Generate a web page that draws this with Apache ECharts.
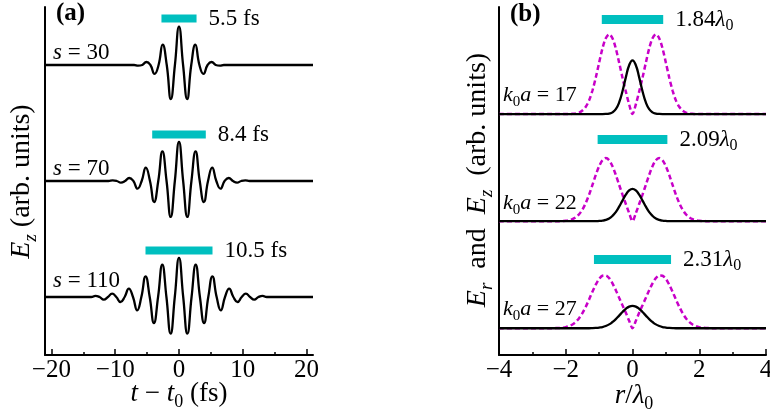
<!DOCTYPE html>
<html>
<head>
<meta charset="utf-8">
<script src="https://cdn.jsdelivr.net/npm/echarts@6/dist/echarts.min.js"></script>
<style>
html, body { margin: 0; padding: 0; background: #fff; }
#chart { width: 770px; height: 415px; }
</style>
</head>
<body>
<div id="chart"></div>
<script>
// ---------- (a) on-axis field E_z versus t - t0, listed for t - t0 >= 0 (pulses are even in time) ----------
const pulseNames = ['30', '70', '110'];
const pulseTime30 = [0, 0.64, 1.28, 1.92, 2.56, 3.2, 3.84, 4.48, 5.12, 5.76, 6.4, 7.04, 21];
const pulseField30 = [0.33, 0, -0.293, 0, 0.175, 0, -0.077, 0, 0.026, 0, -0.006, 0, 0];
const pulseTime70 = [0, 0.65, 1.3, 1.95, 2.6, 3.25, 3.9, 4.55, 5.2, 5.85, 6.5, 7.15, 7.8, 8.45, 9.1, 9.75, 10.4, 11.05, 21];
const pulseField70 = [0.336, 0, -0.31, 0, 0.255, 0, -0.181, 0, 0.115, 0, -0.066, 0, 0.026, 0, -0.014, 0, 0.005, 0, 0];
const pulseTime110 = [0, 0.66, 1.31, 1.97, 2.62, 3.28, 3.93, 4.59, 5.24, 5.9, 6.55, 7.21, 7.86, 8.52, 9.17, 9.83, 10.48, 11.14, 11.79, 12.45, 13.1, 13.76, 21];
const pulseField110 = [0.338, 0, -0.316, 0, 0.278, 0, -0.224, 0, 0.178, 0, -0.115, 0, 0.072, 0, -0.043, 0, 0.029, 0, -0.023, 0, 0.01, 0, 0];
const pulseDurations = [5.5, 8.4, 10.5];          // fs
const timeTicks = [-20, -10, 0, 10, 20];
const timeMinorTicks = [-15, -5, 5, 15];

// ---------- (b) transverse profiles versus r / lambda0, listed for r >= 0 (profiles are even in r) ----------
const kaNames = ['17', '22', '27'];
const radius = [0, 0.1, 0.2, 0.3, 0.4, 0.5, 0.6, 0.7, 0.8, 0.9, 1.0, 1.1, 1.2, 1.3, 1.4, 1.5, 1.6, 1.7, 1.8, 1.9, 2.0, 2.1, 2.2, 2.3, 2.4, 4];
const ezRadial17 = [0.502, 0.456, 0.343, 0.213, 0.109, 0.046, 0.016, 0.005, 0.001, 0, 0, 0, 0, 0, 0, 0, 0, 0, 0, 0, 0, 0, 0, 0, 0, 0];
const erRadial17 = [0, 0.09, 0.21, 0.34, 0.48, 0.613, 0.709, 0.745, 0.709, 0.613, 0.48, 0.341, 0.22, 0.128, 0.068, 0.033, 0.014, 0.006, 0.002, 0, 0, 0, 0, 0, 0, 0];
const ezRadial22 = [0.302, 0.287, 0.247, 0.192, 0.135, 0.085, 0.049, 0.025, 0.012, 0.005, 0.002, 0, 0, 0, 0, 0, 0, 0, 0, 0, 0, 0, 0, 0, 0, 0];
const erRadial22 = [0, 0.075, 0.16, 0.248, 0.339, 0.432, 0.513, 0.569, 0.589, 0.569, 0.513, 0.432, 0.339, 0.248, 0.17, 0.108, 0.064, 0.036, 0.018, 0.009, 0.004, 0.002, 0, 0, 0, 0];
const ezRadial27 = [0.209, 0.202, 0.181, 0.151, 0.118, 0.085, 0.058, 0.036, 0.021, 0.011, 0.006, 0.003, 0.001, 0, 0, 0, 0, 0, 0, 0, 0, 0, 0, 0, 0, 0];
const erRadial27 = [0, 0.069, 0.144, 0.214, 0.284, 0.355, 0.419, 0.468, 0.493, 0.49, 0.46, 0.407, 0.341, 0.269, 0.201, 0.142, 0.094, 0.059, 0.035, 0.02, 0.01, 0.005, 0.002, 0.001, 0, 0];
const spotWidths = ['1.84', '2.09', '2.31'];      // in units of lambda0
const radiusTicks = [-4, -2, 0, 2, 4];

// ---------- layout ----------
const serif = '"Liberation Serif", "Times New Roman", serif';
const CYAN = '#00bfbf';
const MAGENTA = '#c800c8';
const pulseBase = [2.5, 1.5, 0.5];      // vertical stacking of traces in (a)
const pulseBarRise = 0.4;
const radialBase = [2.25, 1.25, 0.25];  // vertical stacking of traces in (b)
const radialBarRise = [0.883, 0.763, 0.642];

function mirrored(xs, ys, base) {
  const pts = [];
  for (let i = xs.length - 1; i > 0; i--) pts.push([-xs[i], base + ys[i]]);
  for (let i = 0; i < xs.length; i++) pts.push([xs[i], base + ys[i]]);
  return pts;
}

const richStyles = {
  n: { fontFamily: serif, fontSize: 22, lineHeight: 28 },
  i: { fontFamily: serif, fontSize: 22, fontStyle: 'italic', lineHeight: 28 },
  sub: { fontFamily: serif, fontSize: 15, lineHeight: 15, verticalAlign: 'bottom' },
  subi: { fontFamily: serif, fontSize: 15, fontStyle: 'italic', lineHeight: 15, verticalAlign: 'bottom' }
};
function richAt(size) {
  const s = size / 22;
  const out = {};
  Object.keys(richStyles).forEach(k => {
    const st = Object.assign({}, richStyles[k]);
    st.fontSize = Math.round(st.fontSize * s);
    st.lineHeight = Math.round(st.lineHeight * s);
    out[k] = st;
  });
  return out;
}

const minus = v => String(v).replace('-', '\u2212');

const lineCurve = (xi, yi, data, color, dashed) => ({
  type: 'line', xAxisIndex: xi, yAxisIndex: yi, data: data,
  smooth: dashed ? 0.3 : 0.5, symbol: 'none', silent: true,
  lineStyle: { color: color, width: dashed ? 2.5 : 2.3, type: dashed ? [5, 3] : 'solid' },
  z: dashed ? 3 : 4
});

const bar = (xi, yi, half, level, thick, text, size) => ({
  type: 'line', xAxisIndex: xi, yAxisIndex: yi,
  data: [[-half, level], [half, level]],
  symbol: 'none', silent: true,
  lineStyle: { color: CYAN, width: thick, cap: 'butt' },
  endLabel: {
    show: true, distance: 12, formatter: () => text,
    fontFamily: serif, fontSize: size, color: '#000', lineHeight: 28,
    rich: richAt(size)
  },
  z: 2
});

const series = [];
const pulseTimes = [pulseTime30, pulseTime70, pulseTime110];
const pulseFields = [pulseField30, pulseField70, pulseField110];
pulseNames.forEach((name, k) => {
  series.push(lineCurve(0, 0, mirrored(pulseTimes[k], pulseFields[k], pulseBase[k]), '#000', false));
  series.push(bar(0, 0, pulseDurations[k] / 2, pulseBase[k] + pulseBarRise, 8, '{n|' + pulseDurations[k] + ' fs}', 23));
});

const ezRadial = [ezRadial17, ezRadial22, ezRadial27];
const erRadial = [erRadial17, erRadial22, erRadial27];
kaNames.forEach((name, k) => {
  series.push(lineCurve(2, 1, mirrored(radius, erRadial[k], radialBase[k]), MAGENTA, true));
  series.push(lineCurve(2, 1, mirrored(radius, ezRadial[k], radialBase[k]), '#000', false));
  series.push(bar(2, 1, parseFloat(spotWidths[k]) / 2, radialBase[k] + radialBarRise[k], 9,
    '{n|' + spotWidths[k] + '}{i|\u03bb}{sub|0}', 23));
});

const axisLine = { show: true, onZero: false, lineStyle: { color: '#000', width: 2 } };
const tickLabel = { fontFamily: serif, fontSize: 25, color: '#000', margin: 3, formatter: minus };

const textEl = (x, y, text, opts) => Object.assign({
  type: 'text', x: x, y: y, silent: true,
  style: Object.assign({
    text: text, fill: '#000', fontFamily: serif, fontSize: 22, lineHeight: 28,
    align: 'left', verticalAlign: 'middle', rich: richAt(22)
  }, (opts && opts.style) || {})
}, (opts && opts.el) || {});

const pulseLabelY = [52.5, 169, 281];
const kaLabelY = [95.5, 203.5, 309.5];
const graphics = [];
graphics.push(textEl(56, 14, '(a)', { style: { fontWeight: 'bold', fontSize: 25 } }));
graphics.push(textEl(510, 15, '(b)', { style: { fontWeight: 'bold', fontSize: 25 } }));
pulseNames.forEach((n, k) => graphics.push(textEl(53, pulseLabelY[k], '{i|s}{n| = ' + n + '}', { style: { rich: richAt(23) } })));
kaNames.forEach((n, k) => graphics.push(textEl(503, kaLabelY[k], '{i|k}{sub|0}{i|a}{n| = ' + n + '}')));
graphics.push(textEl(179, 394, '{i|t}{n| \u2212 }{i|t}{sub|0}{n| (fs)}',
  { style: { align: 'center', rich: richAt(27) } }));
graphics.push(textEl(634, 396, '{i|r}{n|/}{i|\u03bb}{sub|0}',
  { style: { align: 'center', rich: richAt(27) } }));
graphics.push(textEl(22, 181.5, '{i|E}{subi|z}{n| (arb. units)}',
  { style: { align: 'center', rich: richAt(28) }, el: { rotation: Math.PI / 2 } }));
graphics.push(textEl(478, 180, '{i|E}{subi|r}{n|  and  }{i|E}{subi|z}{n|  (arb. units)}',
  { style: { align: 'center', rich: richAt(28) }, el: { rotation: Math.PI / 2 } }));

const option = {
  animation: false,
  backgroundColor: '#fff',
  grid: [
    { left: 45, top: 7, width: 268, height: 348, containLabel: false, outerBoundsMode: 'none' },
    { left: 499, top: 7, width: 267, height: 348, containLabel: false, outerBoundsMode: 'none' }
  ],
  xAxis: [
    {
      gridIndex: 0, type: 'value', min: -21, max: 21, position: 'bottom',
      axisLine: axisLine,
      axisTick: { show: true, inside: true, length: 6, customValues: timeTicks, lineStyle: { color: '#000', width: 1.5 } },
      axisLabel: Object.assign({ customValues: timeTicks }, tickLabel),
      splitLine: { show: false }
    },
    {
      gridIndex: 0, type: 'value', min: -21, max: 21, position: 'bottom',
      axisLine: { show: false, onZero: false },
      axisTick: { show: true, inside: true, length: 3, customValues: timeMinorTicks, lineStyle: { color: '#000', width: 1.5 } },
      axisLabel: { show: false, customValues: timeMinorTicks },
      splitLine: { show: false }
    },
    {
      gridIndex: 1, type: 'value', min: -4, max: 4, interval: 2, position: 'bottom',
      axisLine: axisLine,
      axisTick: { show: true, inside: true, length: 6, lineStyle: { color: '#000', width: 1.5 } },
      minorTick: { show: true, splitNumber: 2, length: 3, lineStyle: { color: '#000', width: 1.5 } },
      axisLabel: Object.assign({ customValues: radiusTicks }, tickLabel),
      splitLine: { show: false }
    }
  ],
  yAxis: [
    { gridIndex: 0, type: 'value', min: 0, max: 3, axisLine: axisLine,
      axisTick: { show: false }, axisLabel: { show: false }, splitLine: { show: false } },
    { gridIndex: 1, type: 'value', min: 0, max: 3.25, axisLine: axisLine,
      axisTick: { show: false }, axisLabel: { show: false }, splitLine: { show: false } }
  ],
  series: series,
  graphic: graphics
};

const chart = echarts.init(document.getElementById('chart'), null, { renderer: 'canvas' });
chart.setOption(option);
</script>
</body>
</html>
